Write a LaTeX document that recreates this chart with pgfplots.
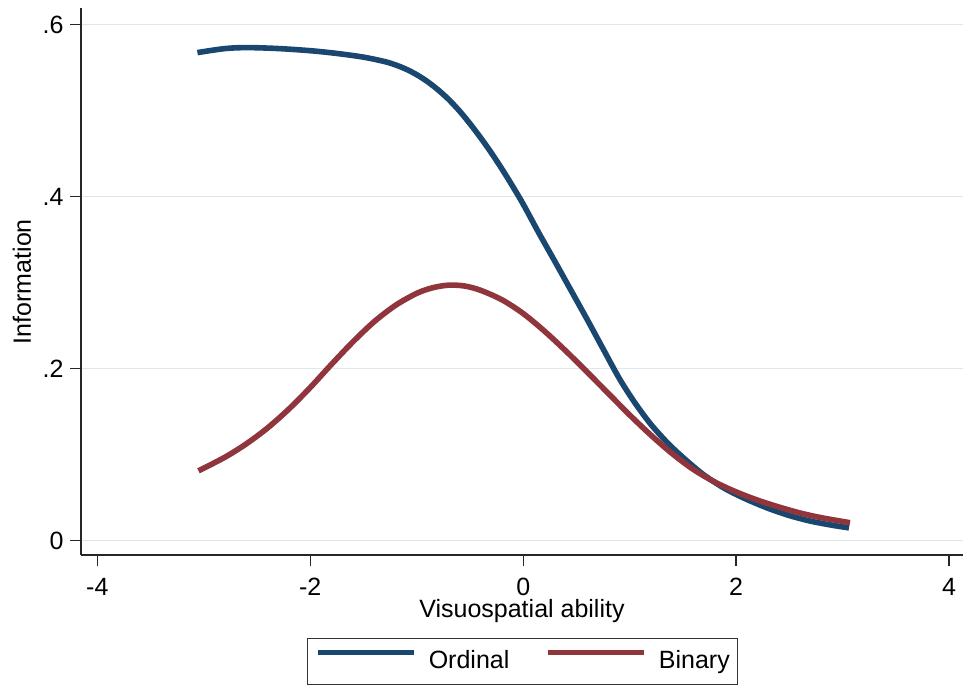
\documentclass[border=0pt]{standalone}
\usepackage{pgfplots}
\pgfplotsset{compat=1.18}
\usepackage{fontspec}
\setmainfont{Liberation Sans}

\definecolor{stnavy}{RGB}{26,71,111}
\definecolor{stmaroon}{RGB}{144,53,59}
\definecolor{stgrid}{RGB}{222,231,237}

% item information
\pgfplotstableread{
x      info
-3.06  0.5675
-2.80  0.5722
-2.59  0.5733
-2.30  0.5722
-2.00  0.5697
-1.75  0.5665
-1.50  0.5622
-1.30  0.5570
-1.20  0.5532
-1.10  0.5482
-1.00  0.5418
-0.90  0.5338
-0.80  0.5242
-0.70  0.5130
-0.60  0.4998
-0.50  0.4848
-0.40  0.4685
-0.30  0.4510
-0.20  0.4322
-0.10  0.4122
 0.00  0.3912
 0.15  0.3570
 0.293 0.3256
 0.45  0.2907
 0.607 0.2557
 0.75  0.2230
 0.905 0.1880
 1.05  0.1600
 1.20  0.1350
 1.36  0.1130
 1.52  0.0945
 1.70  0.0760
 1.90  0.0600
 2.10  0.0478
 2.30  0.0375
 2.50  0.0290
 2.70  0.0225
 2.90  0.0178
 3.06  0.0147
}\ordinal

\pgfplotstableread{
x      info
-3.05  0.0810
-2.80  0.0970
-2.60  0.1125
-2.40  0.1310
-2.20  0.1530
-2.00  0.1780
-1.80  0.2050
-1.60  0.2310
-1.40  0.2545
-1.20  0.2735
-1.00  0.2875
-0.85  0.2940
-0.70  0.2970
-0.55  0.2960
-0.40  0.2910
-0.20  0.2800
 0.00  0.2640
 0.20  0.2435
 0.40  0.2205
 0.60  0.1960
 0.80  0.1710
 1.00  0.1460
 1.20  0.1225
 1.40  0.1010
 1.60  0.0825
 1.80  0.0680
 2.00  0.0565
 2.20  0.0470
 2.40  0.0390
 2.60  0.0320
 2.80  0.0265
 3.07  0.0207
}\binary

\begin{document}
\fontsize{12.5bp}{15bp}\selectfont
\begin{tikzpicture}
\begin{axis}[
  scale only axis, width=441bp, height=273.35bp,
  xmin=-4.154, xmax=4.131, ymin=-0.0169, ymax=0.619,
  axis lines*=left, axis line style={-, black!85, line width=0.7bp},
  xtick={-4,-2,0,2,4}, xticklabels={-4,-2,0,2,4},
  ytick={0,0.2,0.4,0.6}, yticklabels={0,.2,.4,.6},
  tick align=outside, major tick length=5.5bp,
  tick style={black!85, line width=0.7bp},
  ymajorgrids, grid style={stgrid, line width=0.7bp},
  tick label style={font=\fontsize{12.5bp}{15bp}\selectfont},
  xticklabel style={anchor=base, inner sep=0pt, yshift=-14.5bp},
  yticklabel style={anchor=east, inner sep=0pt, xshift=-3bp},
  every axis x label/.style={at={(rel axis cs:0.5,-0.1150)}, anchor=base,
    inner sep=0pt, font=\fontsize{12.5bp}{15bp}\selectfont},
  every axis y label/.style={at={(rel axis cs:-0.0669,0.5)}, rotate=90,
    anchor=center, font=\fontsize{12.5bp}{15bp}\selectfont},
  xlabel={Visuospatial ability}, ylabel={Information},
  legend columns=2,
  legend image code/.code={\draw[#1, line width=2.8bp] (0bp,4.5bp) -- (48bp,4.5bp);},
  legend style={at={(rel axis cs:0.5006,-0.195)}, anchor=center,
    draw=black!80, line width=0.6bp, fill=white,
    font=\fontsize{12.5bp}{15bp}\selectfont,
    inner xsep=4bp, inner ysep=4bp,
    nodes={inner xsep=0pt, inner ysep=2bp},
    /tikz/every odd column/.append style={column sep=6bp},
    /tikz/every even column/.append style={column sep=18bp}},
  legend cell align=left,
  clip=false,
]
\addplot[stnavy, line width=2.8bp, smooth] table[x=x, y=info] {\ordinal};
\addlegendentry{Ordinal}
\addplot[stmaroon, line width=2.8bp, smooth] table[x=x, y=info] {\binary};
\addlegendentry{Binary}
\coordinate (bbSW) at (rel axis cs:-0.0918,-0.2396);
\coordinate (bbNE) at (rel axis cs:1.0,1.0152);
\end{axis}
\pgfresetboundingbox
\path[use as bounding box] (bbSW) rectangle (bbNE);
\end{tikzpicture}
\end{document}
